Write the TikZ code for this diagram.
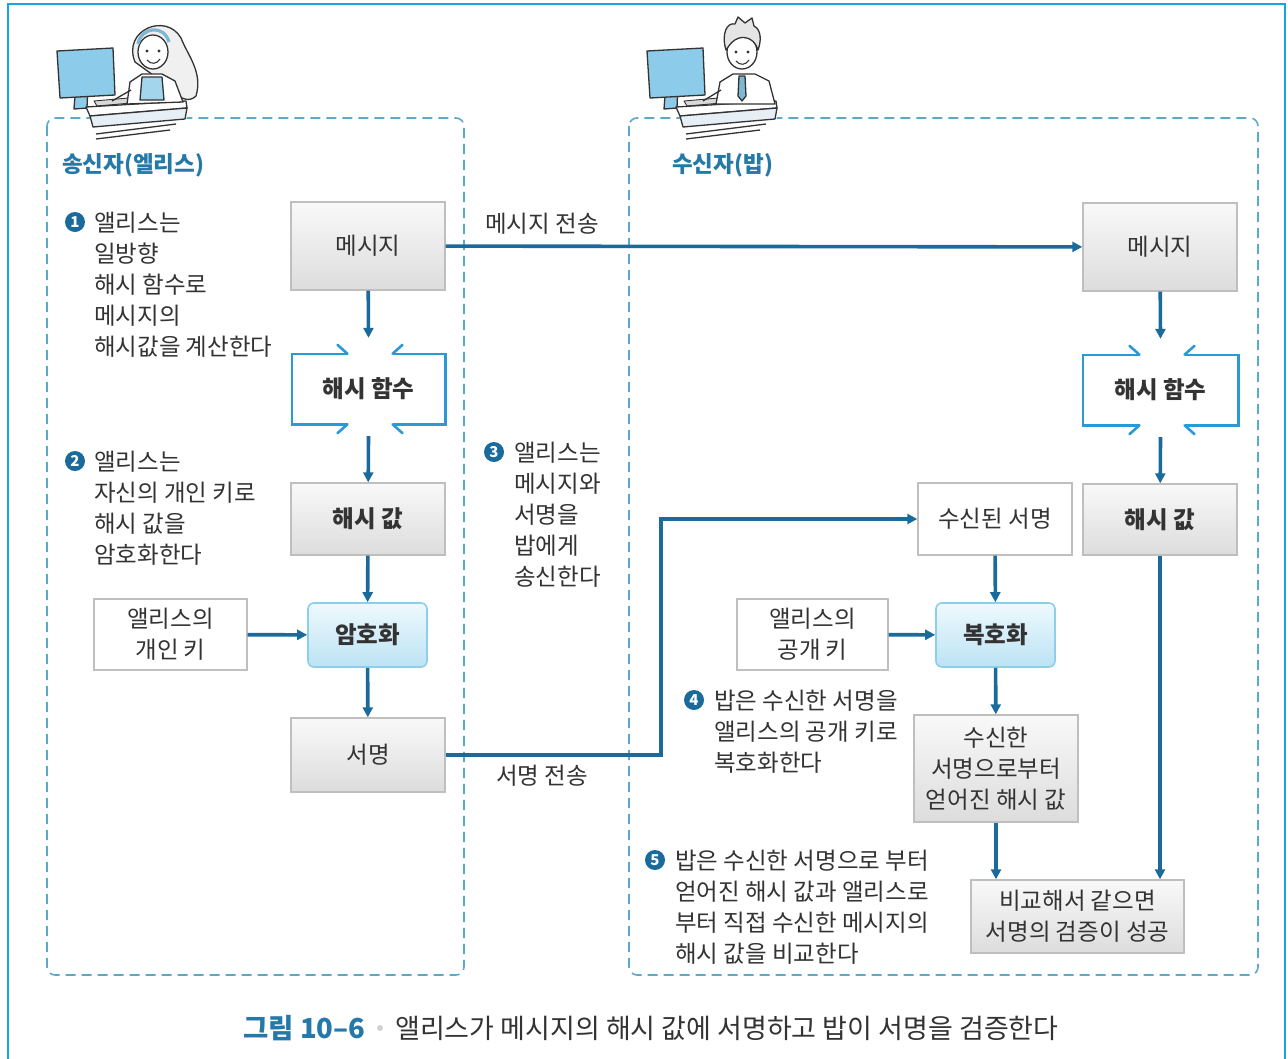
\documentclass[tikz,border=0pt]{standalone}
\usepackage{fontspec}
\setmainfont{Noto Sans CJK KR}
\usetikzlibrary{arrows.meta}
\definecolor{arrowblue}{HTML}{1A6A9C}
\definecolor{frameblue}{HTML}{19A6E0}
\definecolor{dashblue}{HTML}{5BAACB}
\definecolor{hfblue}{HTML}{2A9AD6}
\definecolor{titleblue}{HTML}{2479A8}
\definecolor{txt}{HTML}{333333}
\definecolor{screenblue}{HTML}{8CCBE9}
\definecolor{deskfill}{HTML}{E6EFF5}
\definecolor{encedge}{HTML}{8DCFEA}
\definecolor{enctop}{HTML}{EEF9FE}
\definecolor{encbot}{HTML}{BCE3F4}

\tikzset{
  boxtext/.style={font=\fontsize{23.5}{31}\selectfont, text=txt, align=center, inner sep=0pt},
  boldtext/.style={font=\fontsize{23.5}{31}\selectfont\bfseries},
  graybox/.style={boxtext, draw=gray!50, line width=1.4pt, top color=gray!5, bottom color=gray!27},
  whitebox/.style={boxtext, draw=gray!50, line width=1.4pt, fill=white},
  bluebox/.style={boxtext, boldtext, draw=encedge, line width=1.6pt, rounded corners=6pt, top color=enctop, bottom color=encbot},
  hfbox/.style={boxtext, boldtext, minimum width=153pt, minimum height=70pt},
  hfline/.style={draw=hfblue, line width=2.6pt},
  arr/.style={draw=arrowblue, line width=3.6pt, -{Triangle[length=10pt,width=10pt]}},
  note/.style={align=left, anchor=north west, inner sep=0pt, font=\fontsize{23.5}{31}\selectfont, text=txt},
  bulletmark/.style={circle, fill=arrowblue, text=white, inner sep=0pt, minimum size=20pt, font=\fontsize{15}{15}\selectfont\bfseries},
  edgelabel/.style={font=\fontsize{23.5}{28}\selectfont, text=txt, inner sep=0pt},
  sidetitle/.style={anchor=west, inner sep=0pt, font=\fontsize{22.5}{26}\selectfont\bfseries, text=titleblue},
  zone/.style={draw=dashblue, line width=1.6pt, dash pattern=on 10pt off 6pt, rounded corners=8pt},
  ink/.style={draw=txt, line width=1.3pt, line join=round},
}

\begin{document}
\begin{tikzpicture}[x=1pt,y=-1pt]
\useasboundingbox (0,0) rectangle (1288,1058);
\fill[white] (0,0) rectangle (1288,1058);

% outer frame
\draw[frameblue, line width=2.2pt] (8,1070) -- (8,4) -- (1285,4) -- (1285,1070);

% sender and receiver zones
\draw[zone] (47,118) rectangle (464,975);
\draw[zone] (629,118) rectangle (1258,975);

% ---------- workstations (monitor + desk) ----------
\foreach \dx in {0,590}{
\begin{scope}[xshift=\dx pt]
  \fill[white] (88,104) -- (188,99) -- (186,128) -- (172,132) -- (96,141) -- (90,116) -- cycle;
  % monitor stand
  \filldraw[ink, fill=screenblue] (76,82) -- (88,82) -- (87,108) -- (74,109) -- cycle;
  % screen
  \filldraw[ink, fill=screenblue] (57,51) -- (113,48) -- (115,95) -- (60,98) -- cycle;
  % keyboard
  \filldraw[ink, fill=gray!30, line width=0.9pt] (94,101) -- (140,97) -- (143,102) -- (97,106) -- cycle;
  % desk top and front
  \filldraw[ink, fill=white] (86,107) -- (186,101) -- (187,108) -- (90,116) -- cycle;
  \filldraw[ink, fill=deskfill] (90,116) -- (187,108) -- (185,119) -- (93,127) -- cycle;
  \draw[ink] (96,134) -- (176,124);
  \draw[ink] (96,139) -- (170,130);
\end{scope}}

% ---------- Alice ----------
\filldraw[ink, fill=gray!12] (135,62) .. controls (122,30) and (166,12) .. (181,38)
  .. controls (188,56) and (203,72) .. (196,96) .. controls (189,103) and (179,99) .. (171,88) -- cycle;
\filldraw[ink, fill=white] (127,104) -- (130,82) -- (142,74) -- (162,74) -- (175,81) -- (183,102) -- cycle;
\filldraw[ink, fill=screenblue!80] (142,77) -- (162,77) -- (164,100) -- (140,100) -- cycle;
\filldraw[ink, fill=white] (153,52) ellipse [x radius=15pt, y radius=17pt];
\draw[screenblue!90!black, line width=3.2pt] (138,44) .. controls (141,27) and (164,24) .. (169,42);
\fill[txt] (147,51) circle (1.7pt) (159,51) circle (1.7pt);
\draw[ink, line width=1.1pt] (147,60) .. controls (151,65) and (157,64) .. (160,59);
\draw[ink] (131,90) -- (112,101);

% ---------- Bob ----------
\filldraw[ink, fill=white] (716,104) -- (720,82) -- (733,74) -- (755,74) -- (769,81) -- (775,104) -- cycle;
\filldraw[ink, fill=screenblue!90!black] (739,76) -- (745,76) -- (746,96) -- (742,101) -- (738,96) -- cycle;
\filldraw[ink, fill=white] (742,52) ellipse [x radius=15pt, y radius=17pt];
\filldraw[ink, fill=gray!20] (726,50) .. controls (721,34) and (727,22) .. (735,24)
  -- (738,17) -- (745,23) -- (752,18) -- (754,26) .. controls (762,30) and (761,42) .. (758,50)
  .. controls (755,40) and (747,36) .. (739,38) .. controls (733,40) and (730,44) .. (726,50) -- cycle;
\fill[txt] (736,52) circle (1.7pt) (748,52) circle (1.7pt);
\draw[ink, line width=1.1pt] (736,61) .. controls (740,66) and (746,65) .. (749,60);
\draw[ink] (721,90) -- (703,101);

% ---------- zone titles ----------
\node[sidetitle] (ttlA) at (62,165) {송신자(엘리스)};
\node[sidetitle] (ttlB) at (672,165) {수신자(밥)};

% ---------- sender side ----------
\node[graybox, minimum width=154pt, minimum height=88pt] (lmsg) at (368,246) {메시지};
\node[hfbox] (lhf) at (368.5,389) {해시 함수};
\node[graybox, boldtext, minimum width=154pt, minimum height=72pt] (lhv) at (368,519) {해시 값};
\node[bluebox, minimum width=119pt, minimum height=64pt] (lenc) at (367.5,635) {암호화};
\node[whitebox, minimum width=153pt, minimum height=71pt] (lkey) at (170.5,634.5) {앨리스의\\개인 키};
\node[graybox, minimum width=154pt, minimum height=74pt] (lsig) at (368,755) {서명};

% ---------- receiver side ----------
\node[graybox, minimum width=154pt, minimum height=88pt] (rmsg) at (1160,247) {메시지};
\node[hfbox, minimum width=155pt] (rhf) at (1160.5,390) {해시 함수};
\node[graybox, boldtext, minimum width=154pt, minimum height=71pt] (rhv) at (1160,519.5) {해시 값};
\node[whitebox, minimum width=154pt, minimum height=72pt] (rrecv) at (995,519) {수신된 서명};
\node[bluebox, minimum width=119pt, minimum height=64pt] (rdec) at (995.5,635) {복호화};
\node[whitebox, minimum width=151pt, minimum height=71pt] (rkey) at (812.5,634.5) {앨리스의\\공개 키};
\node[graybox, minimum width=164pt, minimum height=107pt] (rget) at (996,768.5) {수신한\\서명으로부터\\얻어진 해시 값};
\node[graybox, minimum width=213pt, minimum height=73pt] (rcmp) at (1077.5,916.5) {비교해서 같으면\\서명의 검증이 성공};

% hash-function brackets with inward barbs
\foreach \h in {lhf,rhf}{
  \draw[hfline, line join=miter] ([xshift=-21pt]\h.north) -- (\h.north west) -- (\h.south west) -- ([xshift=-21pt]\h.south);
  \draw[hfline, line join=miter] ([xshift=24pt]\h.north) -- (\h.north east) -- (\h.south east) -- ([xshift=24pt]\h.south);
  \draw[hfline, line cap=round] ([xshift=-21pt]\h.north) -- ++(-10,-9);
  \draw[hfline, line cap=round] ([xshift=-21pt]\h.south) -- ++(-10,9);
  \draw[hfline, line cap=round] ([xshift=24pt]\h.north) -- ++(10,-9);
  \draw[hfline, line cap=round] ([xshift=24pt]\h.south) -- ++(10,9);
}

% ---------- connectors ----------
\draw[arr] (lmsg) -- ([yshift=16pt]lhf.north);
\draw[arr] ([yshift=-12pt]lhf.south) -- (lhv);
\draw[arr] (lhv) -- (lenc);
\draw[arr] (lkey) -- (lenc);
\draw[arr] (lenc) -- (lsig);

\draw[arr] (lmsg) -- (rmsg);
\draw[arr] (lsig.east) -- ++(215,0) |- (rrecv.west);

\draw[arr] (rmsg) -- ([yshift=16pt]rhf.north);
\draw[arr] ([yshift=-12pt]rhf.south) -- (rhv);
\draw[arr] (rhv) -- (rhv |- rcmp.north);
\draw[arr] (rrecv) -- (rdec);
\draw[arr] (rkey) -- (rdec);
\draw[arr] (rdec) -- (rget);
\draw[arr] (rget) -- (rget |- rcmp.north);

\node[edgelabel] (lblmsg) at (542,224) {메시지 전송};
\node[edgelabel] (lblsig) at (542,776) {서명 전송};

% ---------- numbered notes ----------
\node[bulletmark] (b1) at (75,222) {1};
\node[note] (n1) at (94,212) {앨리스는\\일방향\\해시 함수로\\메시지의\\해시값을 계산한다};
\node[bulletmark] (b2) at (75,461) {2};
\node[note] (n2) at (94,451) {앨리스는\\자신의 개인 키로\\해시 값을\\암호화한다};
\node[bulletmark] (b3) at (494,452) {3};
\node[note] (n3) at (514,442) {앨리스는\\메시지와\\서명을\\밥에게\\송신한다};
\node[bulletmark] (b4) at (694,700) {4};
\node[note] (n4) at (714,690) {밥은 수신한 서명을\\앨리스의 공개 키로\\복호화한다};
\node[bulletmark] (b5) at (655,860) {5};
\node[note] (n5) at (675,850) {밥은 수신한 서명으로 부터\\얻어진 해시 값과 앨리스로\\부터 직접 수신한 메시지의\\해시 값을 비교한다};

% ---------- caption ----------
\node[anchor=west, inner sep=0pt, font=\fontsize{27.5}{31}\selectfont\bfseries, text=titleblue] (capnum) at (243,1028) {그림 10–6};
\fill[gray!35] (380,1028) circle (3pt);
\node[anchor=west, inner sep=0pt, font=\fontsize{27}{31}\selectfont, text=txt] (captext) at (395,1028) {앨리스가 메시지의 해시 값에 서명하고 밥이 서명을 검증한다};
\end{tikzpicture}
\end{document}
